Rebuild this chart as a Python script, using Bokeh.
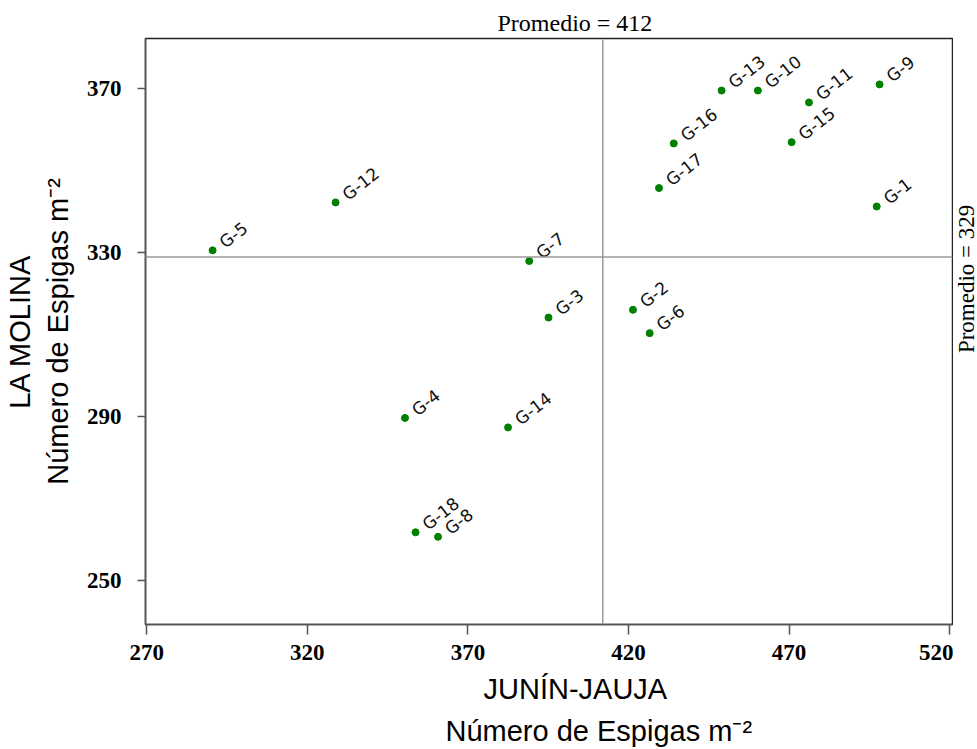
import math
from bokeh.plotting import figure
from bokeh.layouts import row
from bokeh.models import Range1d, FixedTicker, Span, Title, ColumnDataSource
from bokeh.core.properties import value
from bokeh.embed import file_html
from bokeh.resources import INLINE

# Data
genotypes = ["G-1", "G-2", "G-3", "G-4", "G-5", "G-6", "G-7", "G-8", "G-9",
             "G-10", "G-11", "G-12", "G-13", "G-14", "G-15", "G-16", "G-17", "G-18"]
junin_jauja = [497.3, 421.4, 395.1, 350.4, 290.5, 426.6, 389.1, 360.7, 498.2,
               460.3, 476.2, 328.8, 449.0, 382.5, 470.8, 434.1, 429.5, 353.7]
la_molina = [341.3, 316.1, 314.2, 289.7, 330.6, 310.4, 328.0, 260.7, 371.1,
             369.6, 366.7, 342.3, 369.6, 287.4, 357.0, 356.7, 345.8, 261.8]
mean_x = 412
mean_y = 329
x_ticks = [270, 320, 370, 420, 470, 520]
y_ticks = [250, 290, 330, 370]
x_title = ["JUNÍN-JAUJA", "Número de Espigas m⁻²"]
y_title = "LA MOLINA\nNúmero de Espigas m⁻²"

src = ColumnDataSource(dict(x=junin_jauja, y=la_molina, g=genotypes))
yr = Range1d(239.3, 382.3)

p = figure(width=953, height=749, output_backend="svg", toolbar_location=None,
           x_range=Range1d(269.6, 520.9), y_range=yr,
           min_border_left=145, min_border_right=1, min_border_top=38,
           min_border_bottom=125, background_fill_color="white",
           border_fill_color="white")

p.xgrid.visible = False
p.ygrid.visible = False
p.outline_line_color = "#222222"
p.outline_line_width = 1.5

p.xaxis.ticker = FixedTicker(ticks=x_ticks)
p.yaxis.ticker = FixedTicker(ticks=y_ticks)
p.xaxis.minor_tick_line_color = None
p.yaxis.minor_tick_line_color = None

for ax in (p.xaxis[0], p.yaxis[0]):
    ax.axis_line_color = "#555555"
    ax.axis_line_width = 1.5
    ax.major_tick_line_color = "#555555"
    ax.major_tick_line_width = 1.5
    ax.major_tick_in = 0
    ax.major_label_text_font = "Liberation Serif"
    ax.major_label_text_font_style = "bold"
    ax.major_label_text_font_size = "23px"
    ax.major_label_text_color = "black"
    ax.axis_label_text_font = "Liberation Sans"
    ax.axis_label_text_font_style = "normal"
    ax.axis_label_text_font_size = "29px"
    ax.axis_label_text_color = "black"
    ax.axis_label_text_line_height = 1.2

p.xaxis.major_tick_out = 10
p.xaxis.major_label_standoff = 10
p.yaxis.major_tick_out = 8
p.yaxis.major_label_standoff = 16
p.yaxis.axis_label_standoff = 10
p.yaxis.axis_label = y_title

# x-axis title as two lines below the axis (offset to the right as in the reference)
p.add_layout(Title(text=x_title[0], align="left", offset=338,
                   text_font="Liberation Sans", text_font_size="29px",
                   text_font_style="normal", text_color="black", standoff=16), "below")
p.add_layout(Title(text=x_title[1], align="left", offset=300,
                   text_font="Liberation Sans", text_font_size="29px",
                   text_font_style="normal", text_color="black", standoff=0), "below")

# mean lines
p.add_layout(Span(location=mean_x, dimension="height", line_color="#999999", line_width=1.5))
p.add_layout(Span(location=mean_y, dimension="width", line_color="#999999", line_width=1.5))

p.scatter("x", "y", source=src, size=7, color="#008000")
p.text("x", "y", text="g", source=src, angle=math.radians(38),
       x_offset=9, y_offset=-6, text_align="left", text_baseline="alphabetic",
       text_font=value("DejaVu Sans"), text_font_size="17px", text_color="#111111")

p.add_layout(Title(text=f"Promedio = {mean_x}", align="left", offset=352,
                   text_font="Liberation Serif", text_font_size="24px",
                   text_font_style="normal", text_color="black", standoff=6),
             "above")

# narrow side panel holding the right-hand annotation of the horizontal mean
side = figure(width=24, height=749, output_backend="svg", toolbar_location=None,
              x_range=Range1d(0, 1), y_range=yr,
              min_border_left=0, min_border_right=0, min_border_top=38,
              min_border_bottom=125, x_axis_location=None, y_axis_location=None,
              background_fill_color="white", border_fill_color="white")
side.outline_line_color = None
side.xgrid.visible = False
side.ygrid.visible = False
side.text(x=[0.55], y=[mean_y], text=[f"Promedio = {mean_y}"], angle=math.pi / 2,
          y_offset=22, text_align="center", text_baseline="middle",
          text_font=value("Liberation Serif"), text_font_size="23px",
          text_color="black")

layout = row(p, side, spacing=0)

open("out.html", "w").write(file_html(layout, INLINE))
